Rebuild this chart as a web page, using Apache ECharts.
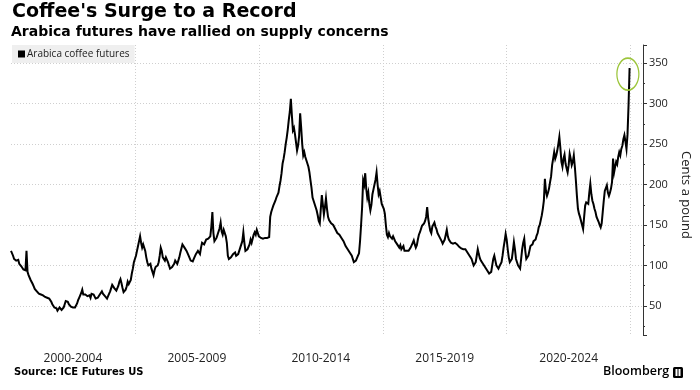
<!DOCTYPE html>
<html>
<head>
<meta charset="utf-8">
<script src="https://cdn.jsdelivr.net/npm/echarts@6/dist/echarts.min.js"></script>
<style>
  html, body { margin: 0; padding: 0; background: #fff; }
  #chart { width: 700px; height: 390px; }
</style>
</head>
<body>
<div id="chart"></div>
<script>
// ---- Data: Arabica coffee futures, cents per pound, two readings per month (1st & 16th) ----
const seriesName = 'Arabica coffee futures';
const firstYear = 2000;
const v2000 = [118,116,112,108,110,106,104,107,102,100,99,97,95,97,94,118,92,88,86,82,80,77,74,71];
const v2001 = [70,68,67,65,66,64,66,63,62,61,63,60,61,59,57,55,52,50,48,46,47,44,45,48];
const v2002 = [46,45,47,48,52,56,57,55,52,50,49,47,48,47,48,50,53,57,60,62,66,70,64,62];
const v2003 = [64,66,62,60,63,60,65,67,64,62,59,57,60,62,64,66,68,65,63,62,60,59,62,64];
const v2004 = [68,72,76,74,72,70,69,72,75,80,83,78,72,67,66,70,74,80,77,75,82,90,96,104];
const v2005 = [108,112,118,124,130,136,128,122,126,124,118,110,104,100,98,102,96,92,88,94,98,96,100,104];
const v2006 = [112,122,118,110,108,106,110,112,104,100,96,97,98,100,102,106,104,102,106,110,116,121,126,124];
const v2007 = [122,120,118,116,112,110,106,104,105,108,110,114,116,118,116,114,122,128,130,126,128,132,130,133];
const v2008 = [132,136,148,166,140,130,132,134,138,140,146,153,142,138,144,146,136,128,112,108,106,110,112,114];
const v2009 = [114,116,112,110,114,118,122,120,130,141,128,118,116,120,122,126,132,128,130,138,141,138,144,140];
const v2010 = [136,135,134,132,133,131,134,136,134,136,135,160,166,170,174,176,180,184,186,190,198,205,214,226];
const v2011 = [232,240,250,258,268,280,290,306,285,267,270,262,252,242,248,260,288,270,250,236,240,234,230,226];
const v2012 = [222,215,205,196,184,180,176,172,168,162,155,152,170,187,175,163,172,183,170,160,156,154,152,150];
const v2013 = [150,148,145,143,140,141,138,137,134,132,130,127,124,122,120,118,116,114,112,110,104,102,106,108];
const v2014 = [112,115,130,150,172,205,200,214,195,184,190,176,168,175,188,194,200,206,215,200,188,192,184,176];
const v2015 = [176,170,164,150,138,135,140,136,134,133,136,137,130,128,126,124,122,125,120,122,124,118,120,118];
const v2016 = [116,118,120,122,124,128,131,126,122,125,132,138,141,145,149,150,152,155,160,172,158,150,143,140];
const v2017 = [148,150,153,148,145,140,138,135,133,130,127,128,132,138,144,136,132,130,128,129,127,126,128,127];
const v2018 = [126,124,123,122,121,122,120,119,120,118,116,114,112,110,108,106,100,98,104,112,120,114,109,106];
const v2019 = [104,102,100,98,96,94,92,90,88,92,100,108,112,106,100,98,96,99,98,104,112,122,130,139];
const v2020 = [132,120,110,104,102,108,118,129,120,108,104,100,98,96,108,120,128,133,118,108,106,112,118,124];
const v2021 = [124,126,130,128,132,137,140,147,150,156,162,170,180,207,192,186,190,195,203,210,224,232,240,232];
const v2022 = [236,242,250,259,245,228,222,232,237,226,220,215,224,238,232,224,228,236,222,205,186,170,164,160];
const v2023 = [158,150,145,160,174,178,180,176,190,201,188,180,176,170,166,160,158,154,150,147,152,166,180,192];
const v2024 = [194,199,190,186,190,195,203,232,215,222,228,225,234,240,236,244,248,256,261,253,244,262,298,344];

// Tick / label text
const periodLabels = ['2000-2004', '2005-2009', '2010-2014', '2015-2019', '2020-2024'];
const periodStarts = [2000, 2005, 2010, 2015, 2020];
const peakMarker = { year: 2024.89, value: 336.5 };

const yearly = [v2000,v2001,v2002,v2003,v2004,v2005,v2006,v2007,v2008,v2009,v2010,v2011,v2012,
                v2013,v2014,v2015,v2016,v2017,v2018,v2019,v2020,v2021,v2022,v2023,v2024];
const points = [];
yearly.forEach((arr, yi) => {
  arr.forEach((val, i) => points.push([firstYear + yi + i / 24, val]));
});

const chart = echarts.init(document.getElementById('chart'), null, { renderer: 'canvas' });
const SANS = '"Open Sans", sans-serif';
const BOLD = '"DejaVu Sans", sans-serif';

chart.setOption({
  animation: false,
  backgroundColor: '#ffffff',
  grid: { left: 11, right: 53.5, top: 45, bottom: 55, containLabel: false },
  legend: {
    left: 12, top: 45,
    backgroundColor: '#efefef',
    padding: [4, 5, 4, 6],
    icon: 'rect', itemWidth: 7, itemHeight: 7, itemGap: 4,
    textStyle: { fontFamily: SANS, fontSize: 10, color: '#222', padding: [0, 0, 0, -3] },
    data: [{ name: seriesName, itemStyle: { color: '#000' } }],
    selectedMode: false
  },
  xAxis: [
    {
      type: 'value', min: 2000, max: 2025.5, interval: 5,
      axisLine: { show: false }, axisTick: { show: false }, axisLabel: { show: false },
      splitLine: { show: true, showMinLine: false, showMaxLine: false,
                   lineStyle: { color: '#cfcfcf', type: [1, 2], width: 1 } }
    },
    {
      type: 'value', min: 1997.5, max: 2023, interval: 2.5, position: 'bottom',
      axisLine: { show: false }, axisTick: { show: false }, splitLine: { show: false },
      axisLabel: {
        show: true, margin: 18, fontFamily: SANS, fontSize: 12, color: '#222',
        formatter: v => { const k = periodStarts.indexOf(Math.round(v * 10) / 10); return k >= 0 ? periodLabels[k] : ''; }
      }
    }
  ],
  yAxis: {
    type: 'value', position: 'right', min: 14, max: 372.5, splitNumber: 7,
    name: 'Cents a pound', nameLocation: 'middle', nameRotate: -90, nameGap: 36,
    nameTextStyle: { fontFamily: SANS, fontSize: 13, color: '#222', padding: [0, 0, 0, 10] },
    axisLine: { show: true, lineStyle: { color: '#333', width: 1 } },
    axisTick: { show: true, inside: false, length: 4, lineStyle: { color: '#333' } },
    minorTick: { show: true, splitNumber: 2, length: 2, lineStyle: { color: '#333' } },
    axisLabel: { showMinLabel: false, showMaxLabel: false, margin: 6,
                 fontFamily: SANS, fontSize: 11, color: '#222' },
    splitLine: { show: true, showMinLine: false, showMaxLine: false,
                 lineStyle: { color: '#cfcfcf', type: [1, 2], width: 1 } }
  },
  series: [{
    name: seriesName, type: 'line', xAxisIndex: 0, yAxisIndex: 0,
    data: points, showSymbol: false, symbol: 'none',
    lineStyle: { color: '#000', width: 2, join: 'miter' },
    itemStyle: { color: '#000' },
    silent: true,
    markPoint: {
      silent: true,
      symbol: 'circle', symbolSize: [22, 32],
      itemStyle: { color: 'rgba(0,0,0,0)', borderColor: '#9cc53b', borderWidth: 1.5 },
      label: { show: false },
      data: [{ coord: [peakMarker.year, peakMarker.value] }]
    }
  }],
  graphic: [
    { type: 'text', left: 12, top: 3,
      style: { text: "Coffee's Surge to a Record", font: 'bold 19px ' + BOLD, fill: '#000' } },
    { type: 'text', left: 11, top: 25,
      style: { text: 'Arabica futures have rallied on supply concerns', font: 'bold 14px ' + BOLD, fill: '#000' } },
    { type: 'text', left: 14, top: 367,
      style: { text: 'Source: ICE Futures US', font: 'bold 10px ' + BOLD, fill: '#000' } },
    { type: 'text', left: 603, top: 365,
      style: { text: 'Bloomberg', font: '600 12.5px ' + SANS, fill: '#000' } },
    { type: 'group', left: 673, top: 367, children: [
      { type: 'rect', shape: { x: 0, y: 0, width: 10, height: 11, r: 1.5 }, style: { fill: '#000' } },
      { type: 'rect', shape: { x: 2.5, y: 2, width: 2, height: 7 }, style: { fill: '#fff' } },
      { type: 'rect', shape: { x: 5.5, y: 2, width: 2, height: 7 }, style: { fill: '#fff' } }
    ]}
  ]
});
</script>
</body>
</html>
